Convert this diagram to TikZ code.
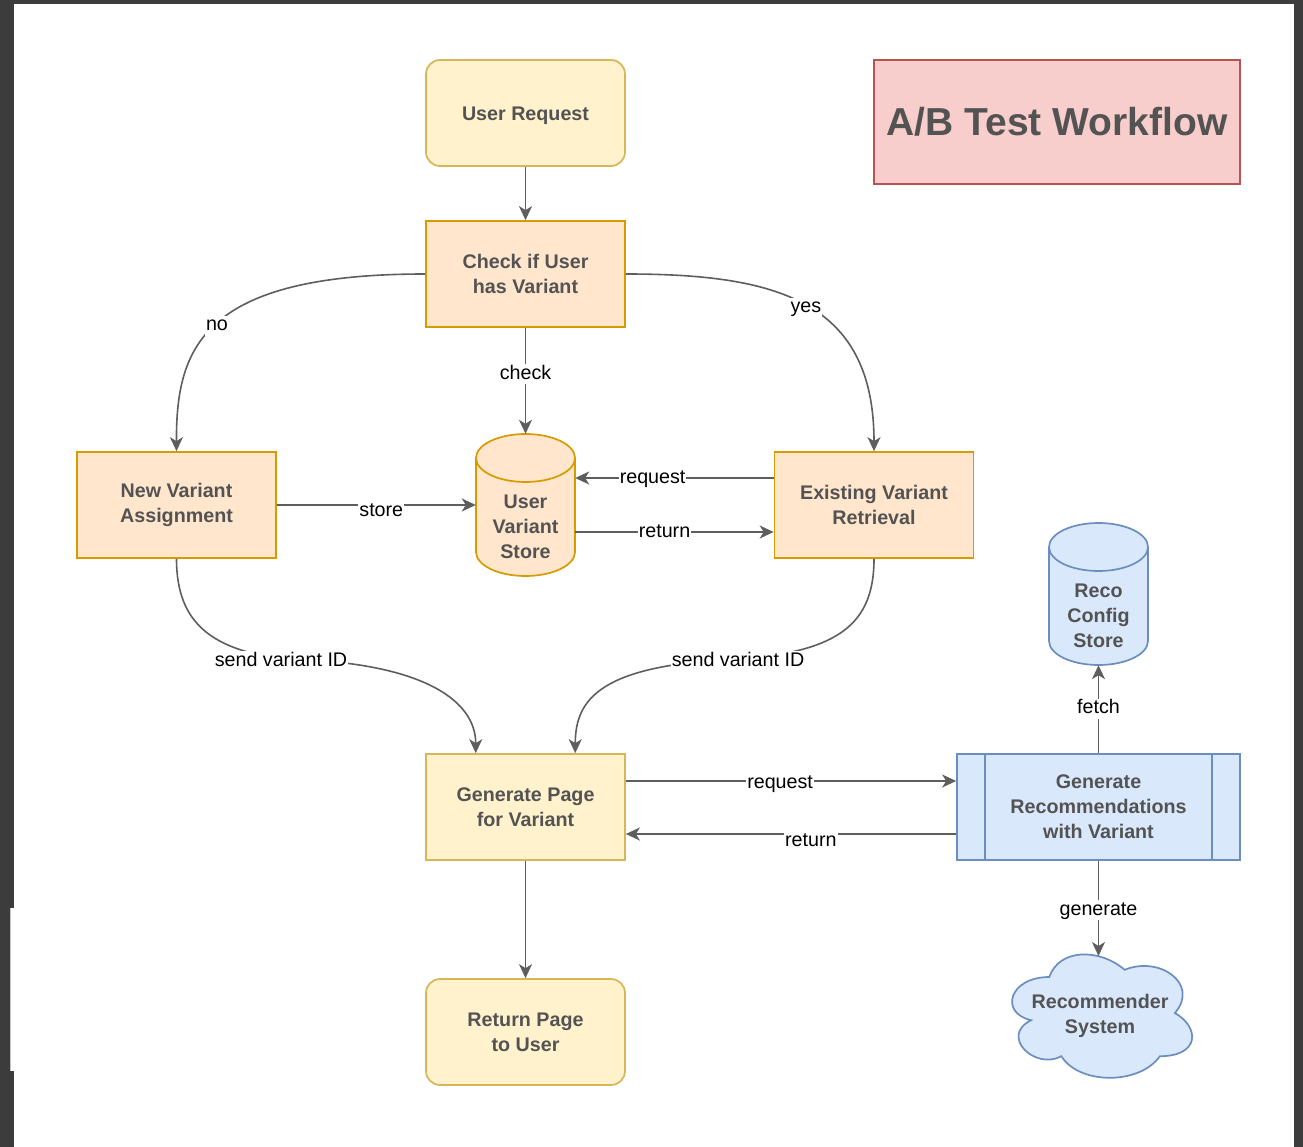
\documentclass[tikz,border=0pt]{standalone}
\usepackage{fontspec}
\setmainfont{Liberation Sans}
\usetikzlibrary{arrows.meta}

\definecolor{framegray}{HTML}{3C3C3C}
\definecolor{ylfill}{HTML}{FFF2CC}
\definecolor{yldraw}{HTML}{D6B656}
\definecolor{orfill}{HTML}{FFE6CC}
\definecolor{ordraw}{HTML}{D79B00}
\definecolor{blfill}{HTML}{DAE8FC}
\definecolor{bldraw}{HTML}{6C8EBF}
\definecolor{rdfill}{HTML}{F8CECC}
\definecolor{rddraw}{HTML}{B85450}
\definecolor{boxtext}{HTML}{535353}
\definecolor{edgegray}{HTML}{5E5E5E}

\newcommand\boxfont{\fontsize{19.7}{24.8}\selectfont\bfseries}
\newcommand\lblfont{\fontsize{19.7}{24}\selectfont}

% database cylinder of 99 x 142 centred on #1
\newcommand\dbcylinder[3]{%
  \begin{scope}[shift={(#1)}]
    \filldraw[fill=#2, draw=#3, line width=1.7pt]
      (-49.5,-47) -- (-49.5,47)
      arc[start angle=180, end angle=360, x radius=49.5pt, y radius=24pt]
      -- (49.5,-47)
      arc[start angle=0, end angle=180, x radius=49.5pt, y radius=24pt]
      -- cycle;
    \draw[draw=#3, line width=1.7pt] (-49.5,-47)
      arc[start angle=180, end angle=360, x radius=49.5pt, y radius=24pt];
  \end{scope}}

\tikzset{
  box/.style={rectangle, minimum width=199pt, minimum height=106pt,
    inner sep=0pt, line width=1.7pt, align=center, font=\boxfont,
    text=boxtext, execute at begin node={\rule{0pt}{19pt}}},
  ybox/.style={box, fill=ylfill, draw=yldraw},
  obox/.style={box, fill=orfill, draw=ordraw},
  cylbody/.style={rectangle, minimum width=99pt, minimum height=142pt,
    inner sep=0pt},
  boxlabel/.style={align=center, font=\boxfont, text=boxtext, inner sep=0pt},
  conn/.style={draw=edgegray, line width=1.6pt,
    -{Stealth[length=14pt, width=13pt, inset=4pt]}},
  lbl/.style={fill=white, inner sep=1pt, font=\lblfont, text=black,
    text height=14pt, text depth=4pt, yshift=-2pt},
}

\begin{document}
\begin{tikzpicture}[x=1pt, y=-1pt]
\useasboundingbox (0,0) rectangle (1303,1147);

% window frame and canvas
\fill[framegray] (0,0) rectangle (1303,1147);
\fill[white] (14,4) rectangle (1294,1147);
\fill[white] (10,908) rectangle (14,1071);
\draw[gray!45, line width=0.6pt] (10,908) -- (10,1071);

% cylinders and cloud outlines
\dbcylinder{525.5,505}{orfill}{ordraw}
\dbcylinder{1098.5,594}{blfill}{bldraw}
\begin{scope}[shift={(999,941)}, x=201pt, y=-144pt]
  \filldraw[fill=blfill, draw=bldraw, line width=1.7pt]
    (0.25,0.25) .. controls (0.05,0.25) and (0,0.5) .. (0.16,0.55)
    .. controls (0,0.66) and (0.18,0.9) .. (0.31,0.8)
    .. controls (0.4,1) and (0.7,1) .. (0.8,0.8)
    .. controls (1,0.8) and (1,0.6) .. (0.875,0.5)
    .. controls (1,0.3) and (0.8,0.1) .. (0.625,0.2)
    .. controls (0.5,0.05) and (0.3,0.05) .. (0.25,0.25) -- cycle;
\end{scope}

% title
\node[rectangle, minimum width=366pt, minimum height=124pt, inner sep=0pt,
  fill=rdfill, draw=rddraw, line width=1.7pt, text=boxtext,
  font=\fontsize{39}{46}\selectfont\bfseries] (title) at (1057,122)
  {A/B Test Workflow};

% process nodes
\node[ybox, rounded corners=14pt] (ur) at (525.5,113) {User Request};
\node[obox] (chk) at (525.5,274) {Check if User\\has Variant};
\node[obox] (nva) at (176.5,505) {New Variant\\Assignment};
\node[obox] (evr) at (874,505) {Existing Variant\\Retrieval};
\node[cylbody] (uvs) at (525.5,505) {};
\node[boxlabel] (uvstext) at (525.5,527) {User\\Variant\\Store};
\node[cylbody] (rcs) at (1098.5,594) {};
\node[boxlabel] (rcstext) at (1098.5,616) {Reco\\Config\\Store};
\node[ybox] (gp) at (525.5,807) {Generate Page\\for Variant};
\node[ybox, rounded corners=14pt] (rp) at (525.5,1032) {Return Page\\to User};
\node[box, minimum width=283pt, fill=blfill, draw=bldraw] (gr) at (1098.5,807)
  {Generate\\Recommendations\\with Variant};
\draw[draw=bldraw, line width=1.7pt]
  ([xshift=29pt]gr.north west) -- ([xshift=29pt]gr.south west)
  ([xshift=-29pt]gr.north east) -- ([xshift=-29pt]gr.south east);
\node[boxlabel] (rs) at (1100,1016) {Recommender\\System};
\coordinate (rstop) at (1098.5,956);

% connectors
\draw[conn] (ur.south) -- (chk.north);

\draw[conn] (chk.west) .. controls (202,274) and (176,348) .. (nva.north)
  node[lbl, pos=0.5] {no};
\draw[conn] (chk.east) .. controls (775,274) and (874,300) .. (evr.north)
  node[lbl, pos=0.5] {yes};

\draw[conn] (chk.south) -- (uvs.north) node[lbl, pos=0.42] {check};
\draw[conn] (nva.east) -- (uvs.west) node[lbl, pos=0.525, yshift=-4pt] {store};
\draw[conn] ([yshift=27pt]evr.west) -- ([yshift=27pt]uvs.east)
  node[lbl, pos=0.61, yshift=2pt] {request};
\draw[conn] ([yshift=-27pt]uvs.east) -- ([yshift=-27pt]evr.west)
  node[lbl, pos=0.45, yshift=2pt] {return};

\coordinate (gpl) at ([xshift=-49.75pt]gp.north);
\coordinate (gpr) at ([xshift=49.75pt]gp.north);
\coordinate (svl) at (281,659);
\coordinate (svr) at (738,659);
\draw[conn] (nva.south) .. controls +(0,67) and +(-66,-10) .. (svl)
  .. controls +(139,2) and +(0,-54) .. (gpl);
\node[lbl] (svlbl) at (svl) {send variant ID};
\draw[conn] (evr.south) .. controls +(0,64) and +(102,-7) .. (svr)
  .. controls +(-138,6) and +(0,-54) .. (gpr);
\node[lbl] (svrbl) at (svr) {send variant ID};

\draw[conn] ([yshift=26pt]gp.east) -- ([yshift=26pt]gr.west)
  node[lbl, pos=0.467] {request};
\draw[conn] ([yshift=-27pt]gr.west) -- ([yshift=-27pt]gp.east)
  node[lbl, pos=0.44, yshift=-5pt] {return};

\draw[conn] (gr.north) -- (rcs.south) node[lbl, pos=0.53] {fetch};
\draw[conn] (gr.south) -- (rstop) node[lbl, pos=0.5] {generate};
\draw[conn] (gp.south) -- (rp.north);
\end{tikzpicture}
\end{document}
